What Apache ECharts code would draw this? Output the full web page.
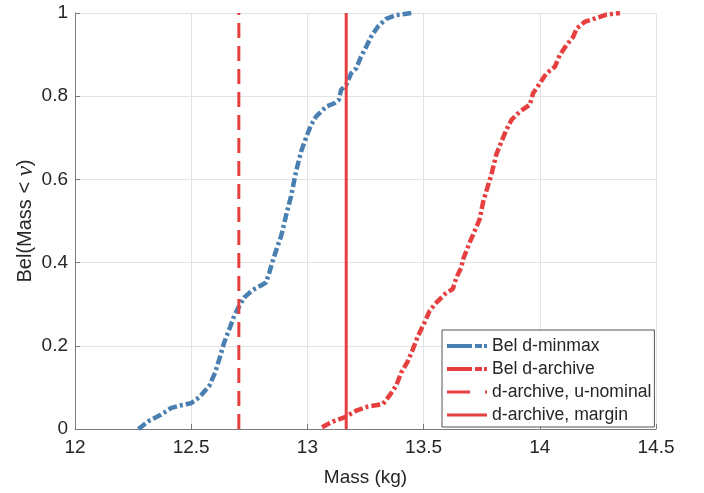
<!DOCTYPE html>
<html>
<head>
<meta charset="utf-8">
<script src="https://cdn.jsdelivr.net/npm/echarts@6/dist/echarts.min.js"></script>
<style>
  html, body { margin: 0; padding: 0; background: #ffffff; }
  #chart { width: 704px; height: 493px; }
</style>
</head>
<body>
<div id="chart"></div>
<script>
// Belief curve for the min/max design: mass (kg) and cumulative belief
const minmaxMass = [12.273, 12.319, 12.369, 12.412, 12.448, 12.499, 12.534, 12.578, 12.603, 12.621,
  12.642, 12.664, 12.685, 12.707, 12.728, 12.764, 12.800, 12.822, 12.836, 12.853,
  12.872, 12.887, 12.901, 12.911, 12.930, 12.951, 12.973, 12.994, 13.016, 13.037,
  13.081, 13.116, 13.135, 13.145, 13.167, 13.188, 13.210, 13.231, 13.253, 13.274,
  13.303, 13.339, 13.382, 13.447];
const minmaxBel = [0.000, 0.020, 0.034, 0.050, 0.056, 0.062, 0.076, 0.104, 0.136, 0.168,
  0.208, 0.240, 0.272, 0.296, 0.316, 0.334, 0.345, 0.352, 0.376, 0.408,
  0.440, 0.464, 0.496, 0.520, 0.560, 0.619, 0.667, 0.700, 0.731, 0.751,
  0.775, 0.783, 0.791, 0.815, 0.827, 0.855, 0.867, 0.895, 0.919, 0.943,
  0.967, 0.986, 0.995, 1.000];

// Belief curve for the archived design
const archiveMass = [13.063, 13.109, 13.159, 13.210, 13.260, 13.325, 13.353, 13.382, 13.404, 13.433,
  13.454, 13.476, 13.504, 13.526, 13.555, 13.591, 13.626, 13.641, 13.662, 13.670,
  13.698, 13.720, 13.741, 13.756, 13.770, 13.792, 13.813, 13.835, 13.856, 13.878,
  13.914, 13.957, 13.971, 14.000, 14.029, 14.065, 14.086, 14.115, 14.144, 14.159,
  14.194, 14.244, 14.287, 14.345];
const archiveBel = [0.004, 0.018, 0.028, 0.044, 0.054, 0.060, 0.080, 0.104, 0.136, 0.164,
  0.192, 0.224, 0.256, 0.284, 0.304, 0.324, 0.337, 0.364, 0.388, 0.408,
  0.448, 0.476, 0.504, 0.545, 0.572, 0.612, 0.660, 0.691, 0.719, 0.743,
  0.763, 0.779, 0.807, 0.831, 0.855, 0.871, 0.899, 0.923, 0.943, 0.963,
  0.979, 0.988, 0.996, 1.000];

// Reference masses for the archived design
const nominalMass = 12.705;
const marginMass = 13.167;
const belRange = [0, 1];

// Axis ticks
const massTicks = [12, 12.5, 13, 13.5, 14, 14.5];
const belTicks = [0, 0.2, 0.4, 0.6, 0.8, 1];

const seriesNames = ['Bel d-minmax', 'Bel d-archive', 'd-archive, u-nominal', 'd-archive, margin'];

const BLUE = '#4a7fb1';
const RED = '#e63f3f';
const FONT = 'Liberation Sans';
const TEXT = '#262626';

const zip = (xs, ys) => xs.map((x, i) => [x, ys[i]]);
const vline = (x) => belRange.map(y => [x, y]);

// legend keys show only the line sample, no marker
const noMarker = { color: 'rgba(0,0,0,0)', borderWidth: 0, opacity: 0 };

const chart = echarts.init(document.getElementById('chart'), null, { renderer: 'canvas' });

chart.setOption({
  animation: false,
  backgroundColor: '#ffffff',
  grid: { left: 75, right: 48, top: 13, bottom: 64, containLabel: false },
  xAxis: {
    type: 'value',
    min: massTicks[0],
    max: massTicks[massTicks.length - 1],
    interval: 0.5,
    name: 'Mass (kg)',
    nameLocation: 'middle',
    nameGap: 39,
    nameMoveOverlap: false,
    nameTextStyle: { fontFamily: FONT, fontSize: 19, color: TEXT },
    axisLine: { lineStyle: { color: '#7a7a7a', width: 1 } },
    axisTick: { inside: true, length: 5, lineStyle: { color: '#7a7a7a' } },
    axisLabel: { fontFamily: FONT, fontSize: 19, color: TEXT, margin: 9 },
    splitLine: { show: true, lineStyle: { color: '#e3e3e3', width: 1 } }
  },
  yAxis: {
    type: 'value',
    min: belTicks[0],
    max: belTicks[belTicks.length - 1],
    interval: 0.2,
    name: '{t|Bel(Mass < }{v|ν}{t|)}',
    nameLocation: 'middle',
    nameGap: 38,
    nameMoveOverlap: false,
    nameTextStyle: {
      rich: {
        t: { fontFamily: FONT, fontSize: 20, color: TEXT },
        v: { fontFamily: 'Liberation Serif', fontStyle: 'italic', fontSize: 23, color: TEXT }
      }
    },
    axisLine: { show: true, lineStyle: { color: '#7a7a7a', width: 1 } },
    axisTick: { show: true, inside: true, length: 5, lineStyle: { color: '#7a7a7a' } },
    axisLabel: { fontFamily: FONT, fontSize: 19, color: TEXT, margin: 7 },
    splitLine: { show: true, lineStyle: { color: '#e3e3e3', width: 1 } }
  },
  legend: {
    orient: 'vertical',
    left: 442,
    top: 330,
    padding: [7, 3, 3, 3],
    itemGap: 5,
    itemWidth: 40,
    itemHeight: 18,
    backgroundColor: '#ffffff',
    borderColor: '#555555',
    borderWidth: 1,
    borderRadius: 0,
    itemStyle: noMarker,
    textStyle: { fontFamily: FONT, fontSize: 17.6, color: TEXT, lineHeight: 18 },
    data: [
      { name: seriesNames[0], itemStyle: noMarker, lineStyle: { width: 4, type: [25, 3, 7, 2, 3, 100] } },
      { name: seriesNames[1], itemStyle: noMarker, lineStyle: { width: 4, type: [25, 3, 7, 2, 3, 100] } },
      { name: seriesNames[2], itemStyle: noMarker, lineStyle: { width: 3, type: [23, 15] } },
      { name: seriesNames[3], itemStyle: noMarker, lineStyle: { width: 3, type: 'solid' } }
    ]
  },
  series: [
    {
      name: seriesNames[0],
      type: 'line',
      data: zip(minmaxMass, minmaxBel),
      symbol: 'none',
      color: BLUE,
      lineStyle: { color: BLUE, width: 4.5, type: [9, 3, 3, 3], cap: 'butt' }
    },
    {
      name: seriesNames[1],
      type: 'line',
      data: zip(archiveMass, archiveBel),
      symbol: 'none',
      color: RED,
      lineStyle: { color: RED, width: 4.5, type: [9, 3, 3, 3], cap: 'butt' }
    },
    {
      name: seriesNames[2],
      type: 'line',
      data: vline(nominalMass),
      symbol: 'none',
      color: RED,
      lineStyle: { color: RED, width: 3, type: [15, 8], cap: 'butt' }
    },
    {
      name: seriesNames[3],
      type: 'line',
      data: vline(marginMass),
      symbol: 'none',
      color: RED,
      lineStyle: { color: RED, width: 3, type: 'solid' }
    }
  ]
});
</script>
</body>
</html>
